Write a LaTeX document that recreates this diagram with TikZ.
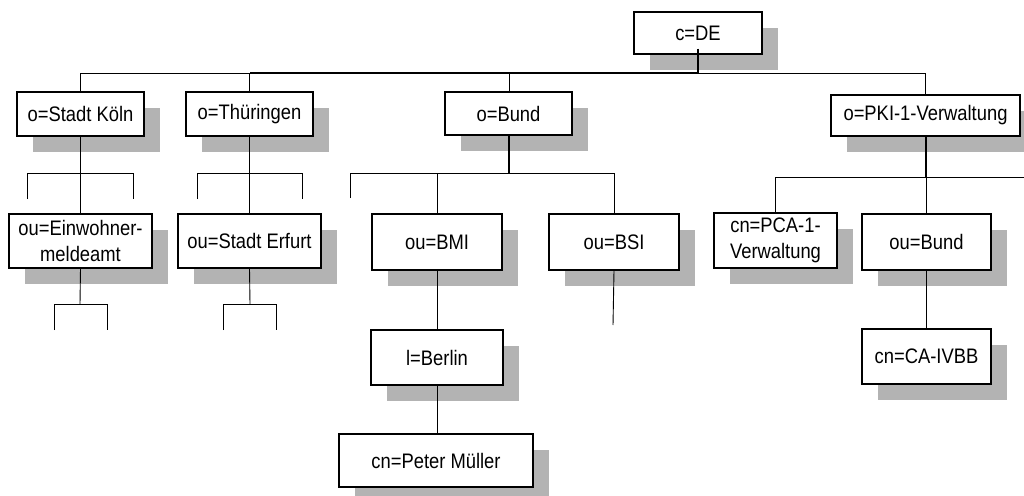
\documentclass[tikz,border=0pt]{standalone}
\usepackage{fontspec}
\setmainfont{Liberation Sans}[FakeStretch=0.875]
\usetikzlibrary{shadows,calc}
\definecolor{shgray}{HTML}{B3B3B3}
\tikzset{
  box/.style={draw=black, line width=1.1pt, fill=white, inner sep=0pt, align=center,
    font=\fontsize{21}{26}\selectfont,
    drop shadow={shadow xshift=16pt, shadow yshift=-16pt, fill=shgray, opacity=1}},
  thinline/.style={draw=black, line width=0.9pt},
  thickline/.style={draw=black, line width=2pt},
}
\begin{document}
\begin{tikzpicture}[x=1pt,y=-1pt]
\useasboundingbox (0,0) rectangle (1024,495);
% boxes
\node[box, minimum width=128pt, minimum height=42pt] (de) at (698,33) {c=DE};
\node[box, minimum width=127pt, minimum height=44pt] (koln) at (80.5,114) {o=Stadt Köln};
\node[box, minimum width=127pt, minimum height=44pt] (thu) at (249.5,114) {o=Thüringen};
\node[box, minimum width=127pt, minimum height=43pt] (bund) at (508.5,113.5) {o=Bund};
\node[box, minimum width=189pt, minimum height=41pt] (pki) at (925.5,115.5) {o=PKI-1-Verwaltung};
\node[box, minimum width=143pt, minimum height=54pt] (ein) at (80.5,241) {ou=Einwohner-\\meldeamt};
\node[box, minimum width=143pt, minimum height=54pt] (erf) at (249.5,241) {ou=Stadt Erfurt};
\node[box, minimum width=130pt, minimum height=56pt] (bmi) at (437,242) {ou=BMI};
\node[box, minimum width=130pt, minimum height=56pt] (bsi) at (614,242) {ou=BSI};
\node[box, minimum width=123pt, minimum height=55pt] (pca) at (775.5,240.5) {cn=PCA-1-\\Verwaltung};
\node[box, minimum width=129pt, minimum height=56pt] (oub) at (926.5,242) {ou=Bund};
\node[box, minimum width=132pt, minimum height=55pt] (ber) at (437,357.5) {l=Berlin};
\node[box, minimum width=129pt, minimum height=55pt] (cav) at (926.5,356.5) {cn=CA-IVBB};
\node[box, minimum width=194pt, minimum height=53pt] (pm) at (436,460.5) {cn=Peter Müller};
% junction coordinates
\coordinate (b0) at (698,73);
\coordinate (kbus) at (80,173);
\coordinate (kl) at (27,173);  \coordinate (kl2) at (27,199);
\coordinate (kr) at (133,173); \coordinate (kr2) at (133,199);
\coordinate (ebus) at (80,304);
\coordinate (el) at (54,304);  \coordinate (el2) at (54,330);
\coordinate (er) at (107,304); \coordinate (er2) at (107,330);
\coordinate (tl) at (197,173); \coordinate (tl2) at (197,199);
\coordinate (tr) at (302,173); \coordinate (tr2) at (302,199);
\coordinate (sbus) at (250,304);
\coordinate (sl) at (223,304); \coordinate (sl2) at (223,330);
\coordinate (sr) at (276,304); \coordinate (sr2) at (276,330);
\coordinate (bbus) at (509,173);
\coordinate (bl) at (350,173); \coordinate (bl2) at (350,198);
\coordinate (bsiend) at (613,325);
\coordinate (pbus) at (926,177);
\coordinate (pr) at (1024,177);
% top level
\draw[thickline] ($(de.south)+(0,-6)$) -- (b0);
\draw[thinline] (koln.north) |- (b0);
\draw[thinline] (thu.north) -- (thu.north |- b0);
\draw[thickline] (b0) -- (b0 -| thu.north);
\draw[thinline] (bund.north -| bbus) -- (bbus |- b0);
\draw[thinline] (b0) -| (pki.north);
% Stadt Koeln
\draw[thinline] (koln.south) -- (ein.north);
\draw[thinline] (kl2) -- (kl) -- (kr) -- (kr2);
\draw[thinline] (ein.south) -- (ebus);
\draw[thinline] (el2) -- (el) -- (er) -- (er2);
% Thueringen
\draw[thinline] (thu.south) -- (erf.north);
\draw[thinline] (tl2) -- (tl) -- (tr) -- (tr2);
\draw[thinline] (erf.south) -- (sbus);
\draw[thinline] (sl2) -- (sl) -- (sr) -- (sr2);
% Bund
\draw[thickline] (bund.south -| bbus) -- (bbus);
\draw[thinline] (bl2) -- (bl) -- (bsi.north |- bl) -- (bsi.north);
\draw[thinline] (bmi.north |- bl) -- (bmi.north);
\draw[thinline] (bsi.south) -- (bsiend);
\draw[thinline] (bmi.south) -- (ber.north);
\draw[thinline] (ber.south) -- (ber.south |- pm.north);
% PKI
\draw[thickline] (pki.south -| pbus) -- (pbus);
\draw[thinline] (pr) -- (pca.north |- pbus) -- (pca.north);
\draw[thinline] (pbus) -- (pbus |- oub.north);
\draw[thinline] (oub.south) -- (cav.north);
\end{tikzpicture}
\end{document}
